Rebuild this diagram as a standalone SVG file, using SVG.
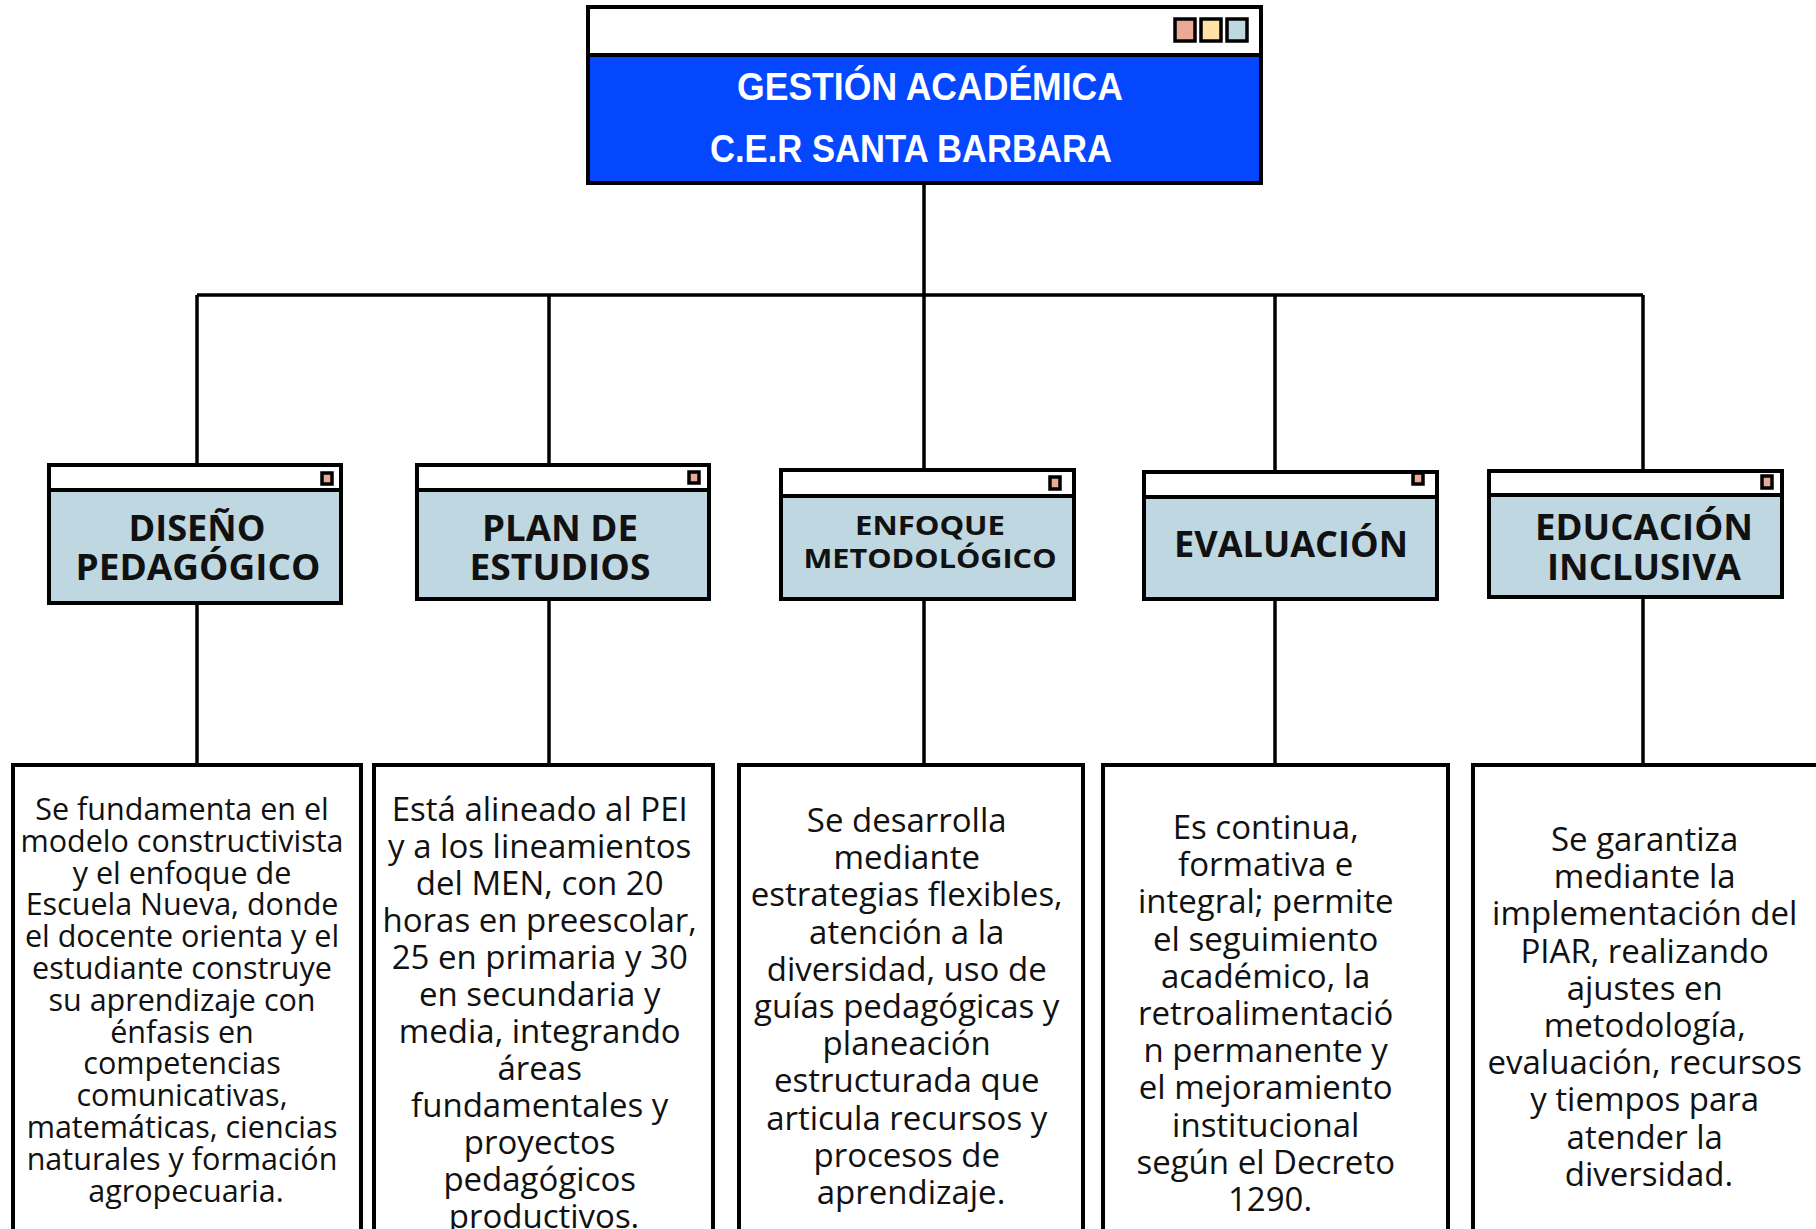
<svg xmlns="http://www.w3.org/2000/svg" width="1816" height="1229" viewBox="0 0 1816 1229">
<style>
.head{fill:#BFD7E0;stroke:#000;stroke-width:4}
.bar{fill:#fff;stroke:#000;stroke-width:4}
.frame{fill:#fff;stroke:#000;stroke-width:4}
.conn{stroke:#000;stroke-width:3.5;fill:none}
.dot{stroke:#000;stroke-width:3.5}
.title{font-family:"Liberation Sans",Arial,sans-serif;font-weight:bold;font-size:38px;fill:#fff;text-anchor:middle}
.hdr{font-family:"Open Sans","Liberation Sans",sans-serif;font-weight:bold;font-size:36px;fill:#111;text-anchor:middle}
.hdr.sm{font-size:27px}
.body{font-family:"Open Sans","Liberation Sans",sans-serif;font-size:33px;fill:#111;text-anchor:middle}
.body.sm{font-size:30.5px}
</style>
<rect width="1816" height="1229" fill="#fff"/>
<g id="connectors">
<path class="conn" d="M924 183V295M197 295H1643M197 295V465M549 295V465M924 295V470M1275 295V472M1643 295V471"/>
<path class="conn" d="M197 603V765M549 599V765M924 599V765M1275 599V765M1643 597V765"/>
</g>
<g id="root">
<rect x="588" y="7" width="673" height="176" fill="#0546FF" stroke="#000" stroke-width="4"/>
<rect class="bar" x="588" y="7" width="673" height="48"/>
<rect class="dot" x="1175" y="19" width="20" height="22" fill="#E9A994"/>
<rect class="dot" x="1201" y="19" width="20" height="22" fill="#FFE0A6"/>
<rect class="dot" x="1227" y="19" width="20" height="22" fill="#BFD7E0"/>
<text class="title" x="930" y="100" textLength="386" lengthAdjust="spacingAndGlyphs">GESTIÓN ACADÉMICA</text>
<text class="title" x="911" y="162" textLength="402" lengthAdjust="spacingAndGlyphs">C.E.R SANTA BARBARA</text>
</g>
<g id="n-diseno">
<rect class="head" x="49" y="465" width="292" height="138"/>
<rect class="bar" x="49" y="465" width="292" height="25"/>
<rect class="dot" x="322" y="473" width="10" height="11" fill="#E9A994"/>
<text class="hdr" x="197" y="541" textLength="137" lengthAdjust="spacingAndGlyphs">DISEÑO</text>
<text class="hdr" x="198" y="580" textLength="245" lengthAdjust="spacingAndGlyphs">PEDAGÓGICO</text>
</g>
<g id="n-plan">
<rect class="head" x="417" y="465" width="292" height="134"/>
<rect class="bar" x="417" y="465" width="292" height="25"/>
<rect class="dot" x="689" y="472" width="10" height="11" fill="#E9A994"/>
<text class="hdr" x="560" y="541" textLength="156" lengthAdjust="spacingAndGlyphs">PLAN DE</text>
<text class="hdr" x="560" y="580" textLength="181" lengthAdjust="spacingAndGlyphs">ESTUDIOS</text>
</g>
<g id="n-enfoque">
<rect class="head" x="781" y="470" width="293" height="129"/>
<rect class="bar" x="781" y="470" width="293" height="26"/>
<rect class="dot" x="1050" y="477" width="10" height="12" fill="#E9A994"/>
<text class="hdr sm" x="930" y="535" textLength="150" lengthAdjust="spacingAndGlyphs">ENFOQUE</text>
<text class="hdr sm" x="930" y="568" textLength="253" lengthAdjust="spacingAndGlyphs">METODOLÓGICO</text>
</g>
<g id="n-evaluacion">
<rect class="head" x="1144" y="472" width="293" height="127"/>
<rect class="bar" x="1144" y="472" width="293" height="25"/>
<rect class="dot" x="1413" y="473" width="10" height="11" fill="#E9A994"/>
<text class="hdr" x="1291" y="557" textLength="234" lengthAdjust="spacingAndGlyphs">EVALUACIÓN</text>
</g>
<g id="n-inclusiva">
<rect class="head" x="1489" y="471" width="293" height="126"/>
<rect class="bar" x="1489" y="471" width="293" height="24"/>
<rect class="dot" x="1762" y="476" width="10" height="12" fill="#E9A994"/>
<text class="hdr" x="1644" y="540" textLength="218" lengthAdjust="spacingAndGlyphs">EDUCACIÓN</text>
<text class="hdr" x="1644" y="580" textLength="194" lengthAdjust="spacingAndGlyphs">INCLUSIVA</text>
</g>
<g id="d-diseno">
<rect class="frame" x="13" y="765" width="348" height="500"/>
<text class="body sm" y="820">
<tspan x="186">Se fundamenta en el</tspan>
<tspan x="186" dy="31.8">modelo constructivista</tspan>
<tspan x="186" dy="31.8">y el enfoque de</tspan>
<tspan x="186" dy="31.8">Escuela Nueva, donde</tspan>
<tspan x="186" dy="31.8">el docente orienta y el</tspan>
<tspan x="186" dy="31.8">estudiante construye</tspan>
<tspan x="186" dy="31.8">su aprendizaje con</tspan>
<tspan x="186" dy="31.8">énfasis en</tspan>
<tspan x="186" dy="31.8">competencias</tspan>
<tspan x="186" dy="31.8">comunicativas,</tspan>
<tspan x="186" dy="31.8">matemáticas, ciencias</tspan>
<tspan x="186" dy="31.8">naturales y formación</tspan>
<tspan x="186" dy="31.8">agropecuaria.</tspan>
</text>
</g>
<g id="d-plan">
<rect class="frame" x="374" y="765" width="339" height="500"/>
<text class="body" y="821">
<tspan x="544">Está alineado al PEI</tspan>
<tspan x="544" dy="37">y a los lineamientos</tspan>
<tspan x="544" dy="37">del MEN, con 20</tspan>
<tspan x="544" dy="37">horas en preescolar,</tspan>
<tspan x="544" dy="37">25 en primaria y 30</tspan>
<tspan x="544" dy="37">en secundaria y</tspan>
<tspan x="544" dy="37">media, integrando</tspan>
<tspan x="544" dy="37">áreas</tspan>
<tspan x="544" dy="37">fundamentales y</tspan>
<tspan x="544" dy="37">proyectos</tspan>
<tspan x="544" dy="37">pedagógicos</tspan>
<tspan x="544" dy="37">productivos.</tspan>
</text>
</g>
<g id="d-enfoque">
<rect class="frame" x="739" y="765" width="344" height="500"/>
<text class="body" y="832">
<tspan x="911">Se desarrolla</tspan>
<tspan x="911" dy="37.2">mediante</tspan>
<tspan x="911" dy="37.2">estrategias flexibles,</tspan>
<tspan x="911" dy="37.2">atención a la</tspan>
<tspan x="911" dy="37.2">diversidad, uso de</tspan>
<tspan x="911" dy="37.2">guías pedagógicas y</tspan>
<tspan x="911" dy="37.2">planeación</tspan>
<tspan x="911" dy="37.2">estructurada que</tspan>
<tspan x="911" dy="37.2">articula recursos y</tspan>
<tspan x="911" dy="37.2">procesos de</tspan>
<tspan x="911" dy="37.2">aprendizaje.</tspan>
</text>
</g>
<g id="d-evaluacion">
<rect class="frame" x="1103" y="765" width="345" height="500"/>
<text class="body" y="839">
<tspan x="1270">Es continua,</tspan>
<tspan x="1270" dy="37.2">formativa e</tspan>
<tspan x="1270" dy="37.2">integral; permite</tspan>
<tspan x="1270" dy="37.2">el seguimiento</tspan>
<tspan x="1270" dy="37.2">académico, la</tspan>
<tspan x="1270" dy="37.2">retroalimentació</tspan>
<tspan x="1270" dy="37.2">n permanente y</tspan>
<tspan x="1270" dy="37.2">el mejoramiento</tspan>
<tspan x="1270" dy="37.2">institucional</tspan>
<tspan x="1270" dy="37.2">según el Decreto</tspan>
<tspan x="1270" dy="37.2">1290.</tspan>
</text>
</g>
<g id="d-inclusiva">
<rect class="frame" x="1473" y="765" width="370" height="500"/>
<text class="body" y="851">
<tspan x="1649">Se garantiza</tspan>
<tspan x="1649" dy="37.2">mediante la</tspan>
<tspan x="1649" dy="37.2">implementación del</tspan>
<tspan x="1649" dy="37.2">PIAR, realizando</tspan>
<tspan x="1649" dy="37.2">ajustes en</tspan>
<tspan x="1649" dy="37.2">metodología,</tspan>
<tspan x="1649" dy="37.2">evaluación, recursos</tspan>
<tspan x="1649" dy="37.2">y tiempos para</tspan>
<tspan x="1649" dy="37.2">atender la</tspan>
<tspan x="1649" dy="37.2">diversidad.</tspan>
</text>
</g>
</svg>
